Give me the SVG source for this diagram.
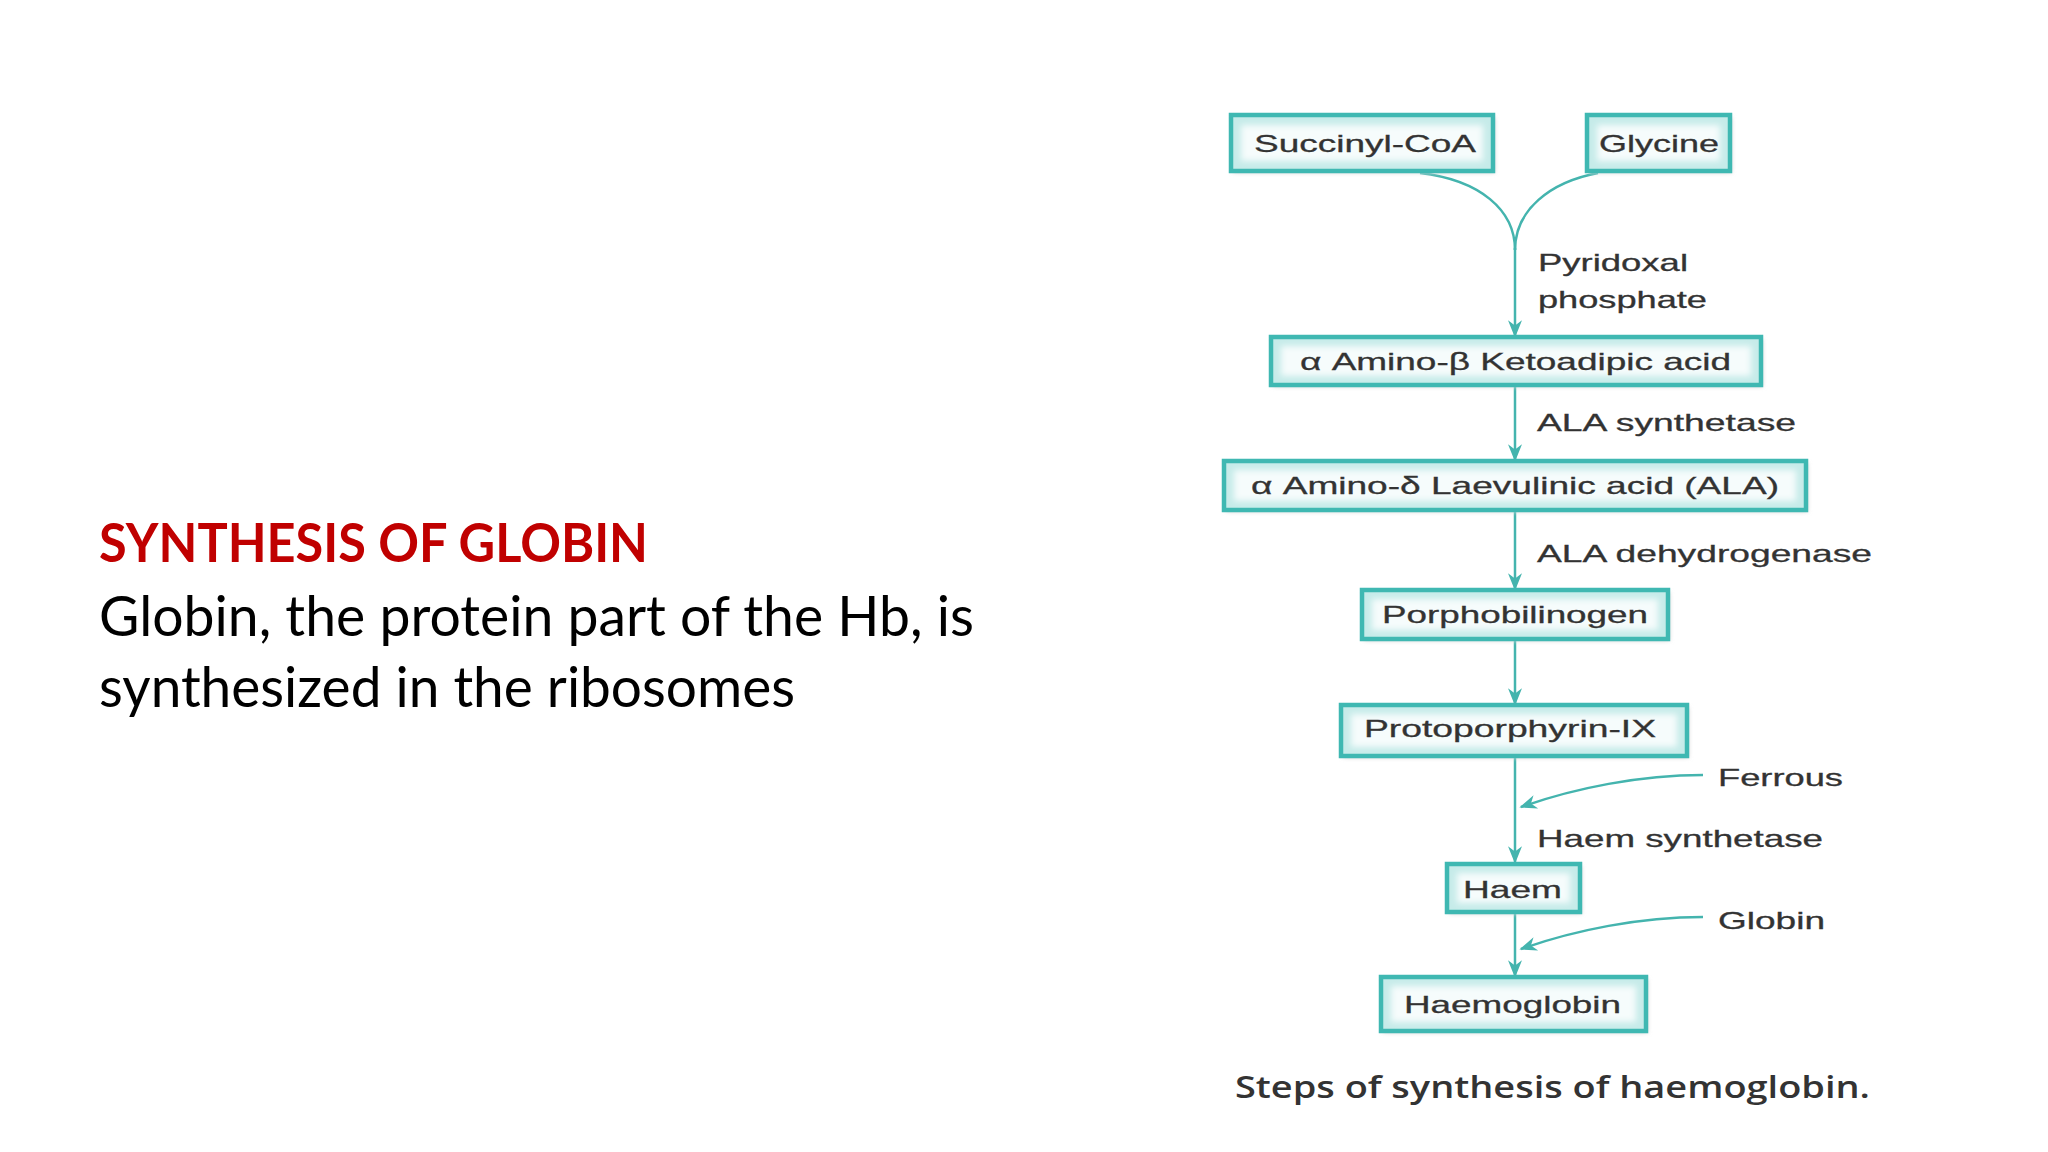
<svg xmlns="http://www.w3.org/2000/svg" width="2048" height="1152" viewBox="0 0 2048 1152">
<defs>
<style>
.box{fill:#c6ebe9;stroke:#3fb8b2;stroke-width:4.5}
.inner{fill:#f6fcfc;filter:url(#soft)}
.lbl{font-family:"Liberation Sans",Arial,sans-serif;font-size:24px;fill:#333333;stroke:#333333;stroke-width:0.3}
.conn{fill:none;stroke:#44b4ae;stroke-width:2.5}
.ttl{font-family:Lato,"Open Sans",sans-serif;font-weight:bold;font-size:54px;fill:#c00000}
.body{font-family:Lato,"Open Sans",sans-serif;font-size:56px;fill:#000}
.cap{font-family:"Open Sans","Liberation Sans",sans-serif;font-weight:600;font-size:30px;fill:#333}
</style>
<filter id="soft" x="-10%" y="-30%" width="120%" height="160%"><feGaussianBlur stdDeviation="3"/></filter>
<filter id="shadow" x="-10%" y="-30%" width="130%" height="170%"><feGaussianBlur stdDeviation="2"/></filter>
<marker id="ah" viewBox="0 0 10 10" refX="9" refY="5" markerWidth="7" markerHeight="7" orient="auto" markerUnits="strokeWidth">
<path d="M0,1 L10,5 L0,9 L3,5 Z" fill="#44b4ae"/>
</marker>
</defs>
<rect width="2048" height="1152" fill="#ffffff"/>

<g id="title-text">
<text class="ttl" x="99" y="562" textLength="549" lengthAdjust="spacingAndGlyphs">SYNTHESIS OF GLOBIN</text>
<text class="body" x="99" y="636" textLength="875" lengthAdjust="spacingAndGlyphs">Globin, the protein part of the Hb, is</text>
<text class="body" x="99" y="707" textLength="696" lengthAdjust="spacingAndGlyphs">synthesized in the ribosomes</text>
</g>

<g id="connectors">
<path class="conn" d="M1420,173 C1480,180 1515,210 1515,250"/>
<path class="conn" d="M1598,173 C1550,182 1515,210 1515,250"/>
<path class="conn" d="M1515,248 L1515,336" marker-end="url(#ah)"/>
<path class="conn" d="M1515,387 L1515,460" marker-end="url(#ah)"/>
<path class="conn" d="M1515,511 L1515,589" marker-end="url(#ah)"/>
<path class="conn" d="M1515,640 L1515,704" marker-end="url(#ah)"/>
<path class="conn" d="M1515,758 L1515,862" marker-end="url(#ah)"/>
<path class="conn" d="M1703,775 C1640,775 1575,788 1521,807" marker-end="url(#ah)"/>
<path class="conn" d="M1515,913 L1515,976" marker-end="url(#ah)"/>
<path class="conn" d="M1703,917 C1640,917 1575,930 1521,949" marker-end="url(#ah)"/>
</g>

<g id="node-succinyl">
<rect x="1233" y="117" width="262" height="56" fill="#d9d9d9" filter="url(#shadow)"/>
<rect class="box" x="1231" y="115" width="262" height="56"/>
<rect class="inner" x="1241" y="125" width="242" height="36"/>
<text class="lbl" x="1254" y="152" textLength="222" lengthAdjust="spacingAndGlyphs">Succinyl-CoA</text>
</g>
<g id="node-glycine">
<rect x="1589" y="117" width="143" height="56" fill="#d9d9d9" filter="url(#shadow)"/>
<rect class="box" x="1587" y="115" width="143" height="56"/>
<rect class="inner" x="1597" y="125" width="123" height="36"/>
<text class="lbl" x="1599" y="152" textLength="120" lengthAdjust="spacingAndGlyphs">Glycine</text>
</g>
<g id="label-pyridoxal">
<text class="lbl" x="1538" y="271" textLength="150" lengthAdjust="spacingAndGlyphs">Pyridoxal</text>
<text class="lbl" x="1538" y="308" textLength="169" lengthAdjust="spacingAndGlyphs">phosphate</text>
</g>
<g id="node-aminoketo">
<rect x="1273" y="339" width="490" height="48" fill="#d9d9d9" filter="url(#shadow)"/>
<rect class="box" x="1271" y="337" width="490" height="48"/>
<rect class="inner" x="1281" y="346" width="470" height="30"/>
<text class="lbl" x="1300" y="370" textLength="431" lengthAdjust="spacingAndGlyphs">α Amino-β Ketoadipic acid</text>
</g>
<g id="label-alasynth">
<text class="lbl" x="1537" y="431" textLength="259" lengthAdjust="spacingAndGlyphs">ALA synthetase</text>
</g>
<g id="node-ala">
<rect x="1226" y="463" width="582" height="49" fill="#d9d9d9" filter="url(#shadow)"/>
<rect class="box" x="1224" y="461" width="582" height="49"/>
<rect class="inner" x="1234" y="470" width="562" height="31"/>
<text class="lbl" x="1251" y="494" textLength="528" lengthAdjust="spacingAndGlyphs">α Amino-δ Laevulinic acid (ALA)</text>
</g>
<g id="label-aladehyd">
<text class="lbl" x="1537" y="562" textLength="335" lengthAdjust="spacingAndGlyphs">ALA dehydrogenase</text>
</g>
<g id="node-porpho">
<rect x="1364" y="592" width="306" height="49" fill="#d9d9d9" filter="url(#shadow)"/>
<rect class="box" x="1362" y="590" width="306" height="49"/>
<rect class="inner" x="1372" y="599" width="286" height="31"/>
<text class="lbl" x="1382" y="623" textLength="266" lengthAdjust="spacingAndGlyphs">Porphobilinogen</text>
</g>
<g id="node-proto">
<rect x="1343" y="707" width="346" height="51" fill="#d9d9d9" filter="url(#shadow)"/>
<rect class="box" x="1341" y="705" width="346" height="51"/>
<rect class="inner" x="1351" y="714" width="326" height="33"/>
<text class="lbl" x="1364" y="737" textLength="292" lengthAdjust="spacingAndGlyphs">Protoporphyrin-IX</text>
</g>
<g id="label-ferrous">
<text class="lbl" x="1718" y="786" textLength="125" lengthAdjust="spacingAndGlyphs">Ferrous</text>
</g>
<g id="label-haemsynth">
<text class="lbl" x="1537" y="847" textLength="286" lengthAdjust="spacingAndGlyphs">Haem synthetase</text>
</g>
<g id="node-haem">
<rect x="1449" y="866" width="133" height="48" fill="#d9d9d9" filter="url(#shadow)"/>
<rect class="box" x="1447" y="864" width="133" height="48"/>
<rect class="inner" x="1457" y="873" width="113" height="30"/>
<text class="lbl" x="1463" y="898" textLength="99" lengthAdjust="spacingAndGlyphs">Haem</text>
</g>
<g id="label-globin">
<text class="lbl" x="1718" y="929" textLength="107" lengthAdjust="spacingAndGlyphs">Globin</text>
</g>
<g id="node-haemoglobin">
<rect x="1383" y="979" width="265" height="54" fill="#d9d9d9" filter="url(#shadow)"/>
<rect class="box" x="1381" y="977" width="265" height="54"/>
<rect class="inner" x="1391" y="986" width="245" height="36"/>
<text class="lbl" x="1404" y="1013" textLength="217" lengthAdjust="spacingAndGlyphs">Haemoglobin</text>
</g>
<g id="caption">
<text class="cap" x="1235" y="1098" textLength="635" lengthAdjust="spacingAndGlyphs">Steps of synthesis of haemoglobin.</text>
</g>
</svg>
